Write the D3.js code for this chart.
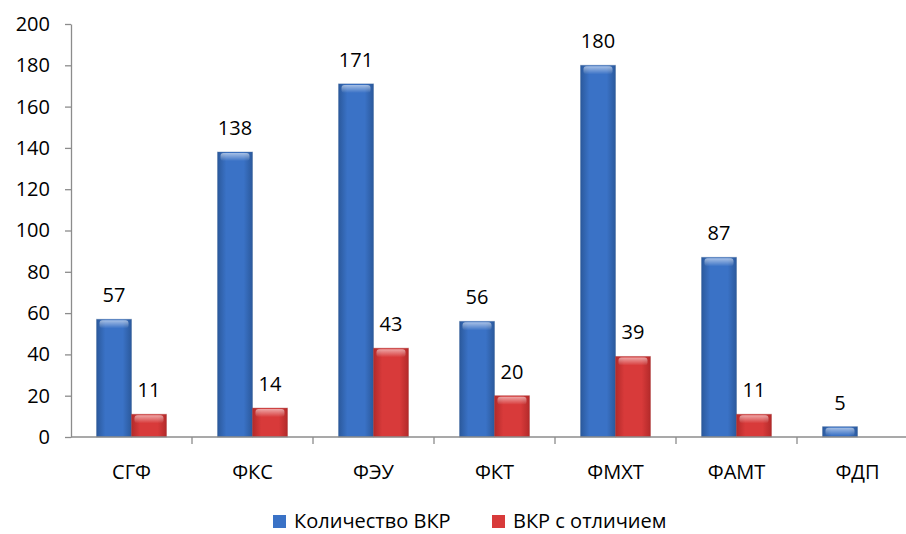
<!DOCTYPE html>
<html>
<head>
<meta charset="utf-8">
<script src="https://cdn.jsdelivr.net/npm/d3@7"></script>
<style>
  html, body { margin: 0; padding: 0; background: #fff; }
  svg { display: block; font-family: "Open Sans", sans-serif; }
</style>
</head>
<body>
<div id="chart"></div>
<script>
var categories = ['СГФ', 'ФКС', 'ФЭУ', 'ФКТ', 'ФМХТ', 'ФАМТ', 'ФДП'];
var seriesNames = ['Количество ВКР', 'ВКР с отличием'];
var totalValues = [57, 138, 171, 56, 180, 87, 5];
var honorsValues = [11, 14, 43, 20, 39, 11, null];
var yTicks = [0, 20, 40, 60, 80, 100, 120, 140, 160, 180, 200];

(function() {
    var width = 906, height = 534;
    var x0 = 71, y0 = 437, yTop = 24;
    var bandW = 121;

    var svg = d3.select('#chart').append('svg')
        .attr('width', width)
        .attr('height', height);

    var defs = svg.append('defs');
    function grad(id, edge, mid) {
        var g = defs.append('linearGradient').attr('id', id)
            .attr('x1', '0%').attr('x2', '100%').attr('y1', '0%').attr('y2', '0%');
        g.append('stop').attr('offset', '0%').attr('stop-color', edge);
        g.append('stop').attr('offset', '25%').attr('stop-color', mid);
        g.append('stop').attr('offset', '75%').attr('stop-color', mid);
        g.append('stop').attr('offset', '100%').attr('stop-color', edge);
    }
    grad('gBlue', '#2b599c', '#3a72c6');
    grad('gRed', '#b32a2a', '#d83a3a');
    var hl = defs.append('linearGradient').attr('id', 'gHl')
        .attr('x1', '0%').attr('x2', '0%').attr('y1', '0%').attr('y2', '100%');
    hl.append('stop').attr('offset', '0%').attr('stop-color', '#fff').attr('stop-opacity', 0.55);
    hl.append('stop').attr('offset', '100%').attr('stop-color', '#fff').attr('stop-opacity', 0);

    var fills = ['url(#gBlue)', 'url(#gRed)'];
    var legendColors = ['#3a72c6', '#d83a3a'];

    var x = d3.scaleBand()
        .domain(categories)
        .range([x0, x0 + bandW * categories.length])
        .padding(0);

    var xInner = d3.scaleBand()
        .domain([0, 1])
        .range([0, bandW])
        .paddingInner(0)
        .paddingOuter(0.73);

    var y = d3.scaleLinear().domain([0, 200]).range([y0, yTop]);

    // y axis
    var yAxis = svg.append('g')
        .attr('transform', 'translate(' + x0 + ',0)')
        .call(d3.axisLeft(y).tickValues(yTicks).tickSize(6).tickPadding(15).tickSizeOuter(0));
    yAxis.select('.domain').attr('stroke', '#8c8c8c').attr('stroke-width', 1.3);
    yAxis.selectAll('.tick line').attr('stroke', '#8c8c8c').attr('stroke-width', 1.3);
    yAxis.selectAll('.tick text')
        .attr('font-size', '20px')
        .attr('font-family', '"Open Sans", sans-serif')
        .attr('fill', '#000');

    // bars
    var series = [totalValues, honorsValues];
    series.forEach(function(vals, si) {
        var data = categories.map(function(c, i) { return { cat: c, v: vals[i] }; })
            .filter(function(d) { return d.v != null; });

        var g = svg.append('g');
        g.selectAll('rect.bar')
            .data(data)
            .join('rect')
            .attr('class', 'bar')
            .attr('x', function(d) { return x(d.cat) + xInner(si); })
            .attr('y', function(d) { return y(d.v); })
            .attr('width', xInner.bandwidth())
            .attr('height', function(d) { return y0 - y(d.v); })
            .attr('fill', fills[si])
            .attr('stroke', si === 0 ? '#2a5590' : '#9e2424')
            .attr('stroke-opacity', 0.35)
            .attr('stroke-width', 1);

        g.selectAll('rect.hl')
            .data(data)
            .join('rect')
            .attr('class', 'hl')
            .attr('x', function(d) { return x(d.cat) + xInner(si) + 3; })
            .attr('y', function(d) { return y(d.v) + 1; })
            .attr('width', xInner.bandwidth() - 6)
            .attr('height', function(d) { return Math.min(8, y0 - y(d.v) - 2); })
            .attr('rx', 3)
            .attr('fill', 'url(#gHl)');

        g.selectAll('text.val')
            .data(data)
            .join('text')
            .attr('class', 'val')
            .attr('x', function(d) { return x(d.cat) + xInner(si) + xInner.bandwidth() / 2; })
            .attr('y', function(d) { return y(d.v) - 17; })
            .attr('text-anchor', 'middle')
            .attr('font-size', '20px')
            .attr('fill', '#000')
            .text(function(d) { return d.v; });
    });

    // x axis
    var xAxis = svg.append('g')
        .attr('transform', 'translate(0,' + y0 + ')');
    xAxis.append('line')
        .attr('x1', x0).attr('x2', width)
        .attr('y1', 0).attr('y2', 0)
        .attr('stroke', '#8c8c8c').attr('stroke-width', 1.3);
    xAxis.selectAll('line.tk')
        .data(categories.slice(1))
        .join('line')
        .attr('class', 'tk')
        .attr('x1', function(d) { return x(d); })
        .attr('x2', function(d) { return x(d); })
        .attr('y1', 0).attr('y2', 7)
        .attr('stroke', '#8c8c8c').attr('stroke-width', 1.3);
    xAxis.selectAll('text')
        .data(categories)
        .join('text')
        .attr('x', function(d) { return x(d) + bandW / 2; })
        .attr('y', 42)
        .attr('text-anchor', 'middle')
        .attr('font-size', '20px')
        .attr('fill', '#000')
        .text(function(d) { return d; });

    // legend
    var legendX = [273, 492];
    var legend = svg.append('g');
    seriesNames.forEach(function(name, i) {
        legend.append('rect')
            .attr('x', legendX[i]).attr('y', 515)
            .attr('width', 13).attr('height', 13)
            .attr('fill', legendColors[i]);
        legend.append('text')
            .attr('x', legendX[i] + 21).attr('y', 528)
            .attr('font-size', '20px')
            .attr('fill', '#000')
            .text(name);
    });
})();
</script>
</body>
</html>
